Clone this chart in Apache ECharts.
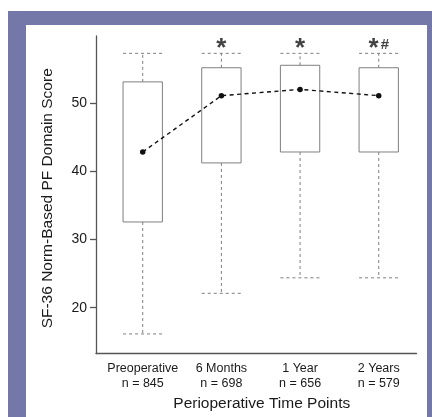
<!DOCTYPE html>
<html>
<head>
<meta charset="utf-8">
<script src="https://cdn.jsdelivr.net/npm/echarts@6/dist/echarts.min.js"></script>
<style>
  html, body { margin: 0; padding: 0; background: #fff; }
  #frame { position: absolute; left: 8px; top: 11px; width: 424px; height: 406px; background: #7378a8; }
  #panel { position: absolute; left: 26px; top: 25px; width: 401px; height: 392px; background: #fff; }
  #main { position: absolute; left: 0; top: 0; width: 432px; height: 417px; }
</style>
</head>
<body>
<div id="frame"></div>
<div id="panel"></div>
<div id="main"></div>
<script>
    // time points and group sizes
    var categories = ['Preoperative', '6 Months', '1 Year', '2 Years'];
    var groupSizes = [845, 698, 656, 579];

    // box summaries: lower whisker, Q1, Q3, upper whisker
    var whiskerLow = [16.15, 22.1, 24.37, 24.37];
    var quartile1 = [32.55, 41.2, 42.8, 42.8];
    var quartile3 = [53.07, 55.14, 55.5, 55.14];
    var whiskerHigh = [57.25, 57.25, 57.25, 57.25];

    // dots joined by the dashed line
    var centerValues = [42.8, 51.05, 51.97, 51.05];

    // significance marks over the boxes
    var markText = ['', '*', '*', '*#'];
    var markLevel = 57.94;

    var yTicks = [20, 30, 40, 50];

    var myChart = echarts.init(document.getElementById('main'));

    var boxData = [];
    var lineData = [];
    var markData = [];
    for (var i = 0; i < categories.length; i++) {
        boxData.push([i + 1, whiskerLow[i], quartile1[i], quartile3[i], whiskerHigh[i]]);
        lineData.push([i + 1, centerValues[i]]);
        if (markText[i]) {
            markData.push([i + 1, markLevel, markText[i]]);
        }
    }

    var gray = '#7f7f7f';

    function renderBox(params, api) {
        var x = api.value(0);
        var low = api.coord([x, api.value(1)]);
        var q1 = api.coord([x, api.value(2)]);
        var q3 = api.coord([x, api.value(3)]);
        var high = api.coord([x, api.value(4)]);
        var w = api.size([0.5, 0])[0];
        var cx = q1[0];
        var dash = { stroke: gray, lineWidth: 1, lineDash: [3, 3] };
        return {
            type: 'group',
            children: [
                { type: 'line', shape: { x1: cx, y1: q3[1], x2: cx, y2: high[1] }, style: dash },
                { type: 'line', shape: { x1: cx, y1: q1[1], x2: cx, y2: low[1] }, style: dash },
                { type: 'line', shape: { x1: cx - w / 2, y1: high[1], x2: cx + w / 2, y2: high[1] }, style: dash },
                { type: 'line', shape: { x1: cx - w / 2, y1: low[1], x2: cx + w / 2, y2: low[1] }, style: dash },
                {
                    type: 'rect',
                    shape: { x: cx - w / 2, y: q3[1], width: w, height: q1[1] - q3[1] },
                    style: { fill: '#fff', stroke: gray, lineWidth: 1 }
                }
            ]
        };
    }

    // asterisk drawn large, hash smaller and lifted a little
    function markFormatter(p) {
        var s = p.value[2];
        var out = '';
        for (var k = 0; k < s.length; k++) {
            out += s[k] === '*' ? '{a|*}' : '{h|' + s[k] + '}';
        }
        return out;
    }

    var option = {
        animation: false,
        grid: { left: 96, top: 36, width: 320.5, height: 323 },
        xAxis: {
            type: 'value',
            min: 0.406,
            max: 4.48,
            splitLine: { show: false },
            axisLine: { lineStyle: { color: '#555', width: 1.3 } },
            axisTick: { show: false },
            axisLabel: {
                customValues: [1, 2, 3, 4],
                margin: 7.5,
                fontFamily: 'Liberation Sans',
                fontSize: 12.5,
                lineHeight: 15,
                color: '#1a1a1a',
                formatter: function (v) {
                    var k = Math.round(v) - 1;
                    return categories[k] + '\nn = ' + groupSizes[k];
                }
            },
            name: 'Perioperative Time Points',
            nameLocation: 'middle',
            nameGap: 41,
            nameTextStyle: {
                fontFamily: 'Liberation Sans',
                fontSize: 15.5,
                color: '#1a1a1a',
                padding: [0, 0, 0, 11]
            }
        },
        yAxis: {
            type: 'value',
            min: 13.27,
            max: 59.79,
            splitLine: { show: false },
            axisLine: { show: true, lineStyle: { color: '#555', width: 1.3 } },
            axisTick: { show: true, length: 6, customValues: yTicks, lineStyle: { color: '#555', width: 1.3 } },
            axisLabel: {
                customValues: yTicks,
                margin: 9,
                fontFamily: 'Liberation Sans',
                fontSize: 14,
                color: '#1a1a1a'
            },
            name: 'SF-36 Norm-Based PF Domain Score',
            nameLocation: 'middle',
            nameGap: 40,
            nameTextStyle: {
                fontFamily: 'Liberation Sans',
                fontSize: 15.5,
                color: '#1a1a1a',
                padding: [0, 7, 0, 0]
            }
        },
        series: [
            {
                type: 'custom',
                renderItem: renderBox,
                data: boxData,
                z: 2
            },
            {
                type: 'line',
                data: lineData,
                symbol: 'circle',
                symbolSize: 5.5,
                itemStyle: { color: '#111' },
                lineStyle: { color: '#111', width: 1.4, type: [4, 3.5] },
                z: 3
            },
            {
                type: 'scatter',
                data: markData,
                symbolSize: 0,
                label: {
                    show: true,
                    position: 'inside',
                    formatter: markFormatter,
                    rich: {
                        a: {
                            fontFamily: 'Liberation Sans',
                            fontWeight: 'bold',
                            fontSize: 26,
                            color: '#111'
                        },
                        h: {
                            fontFamily: 'Liberation Sans',
                            fontWeight: 'bold',
                            fontSize: 15,
                            color: '#111',
                            padding: [0, 0, 7, 2]
                        }
                    }
                },
                z: 4
            }
        ]
    };

    myChart.setOption(option);
</script>
</body>
</html>
